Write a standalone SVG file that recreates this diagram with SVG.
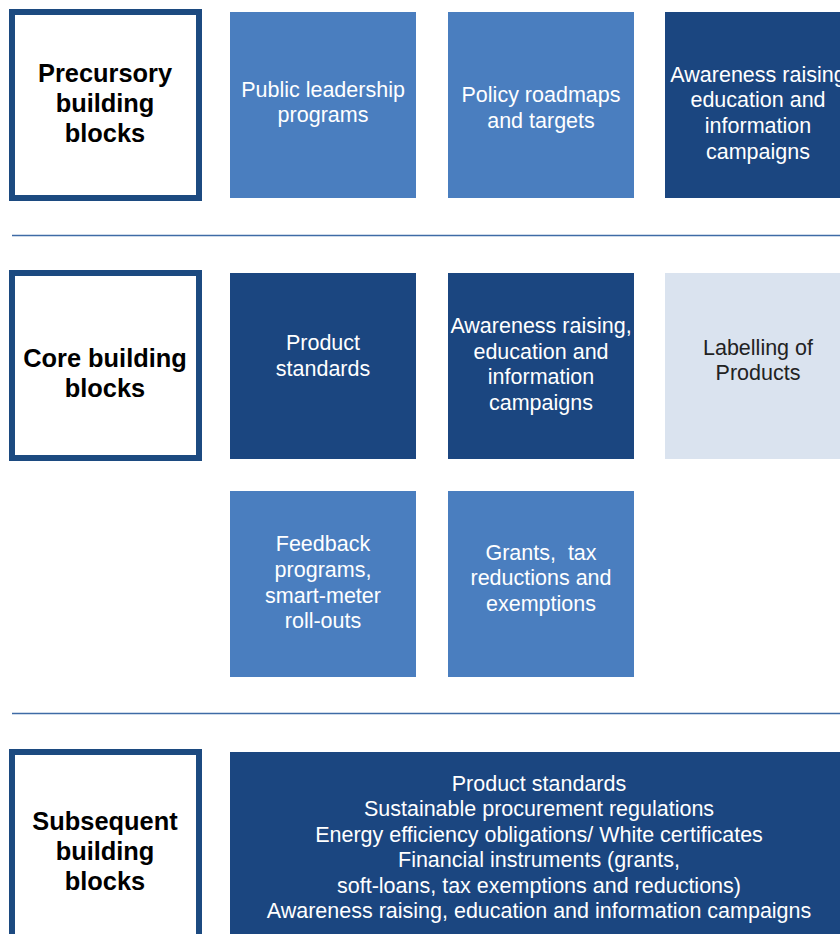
<svg xmlns="http://www.w3.org/2000/svg" width="840" height="934" viewBox="0 0 840 934">
<style>
.frame{fill:#fff;stroke:#1c4a80;stroke-width:6}
.mid{fill:#4a7ebf}
.dark{fill:#1b4680}
.light{fill:#dae3ef}
.div{stroke:#3f6ba6;stroke-width:1.6}
.lbl{font-family:"Liberation Sans",Arial,sans-serif;font-weight:bold;font-size:25.4px;fill:#000;text-anchor:middle}
.t{font-family:"Liberation Sans",Arial,sans-serif;font-size:21.5px;fill:#fff;text-anchor:middle}
.td{fill:#222}
</style>
<rect width="840" height="934" fill="#fff"/>
<g id="dividers">
<line class="div" x1="12" y1="235.5" x2="840" y2="235.5"/>
<line class="div" x1="12" y1="713.5" x2="840" y2="713.5"/>
</g>
<g id="precursory">
<rect class="frame" x="12" y="12" width="187" height="186"/>
<text class="lbl"><tspan x="105" y="82">Precursory</tspan><tspan x="105" y="112">building</tspan><tspan x="105" y="142">blocks</tspan></text>
</g>
<g id="public-leadership">
<rect class="mid" x="230" y="12" width="186" height="186"/>
<text class="t"><tspan x="323" y="97">Public leadership</tspan><tspan x="323" y="122">programs</tspan></text>
</g>
<g id="policy-roadmaps">
<rect class="mid" x="448" y="12" width="186" height="186"/>
<text class="t"><tspan x="541" y="102">Policy roadmaps</tspan><tspan x="541" y="128">and targets</tspan></text>
</g>
<g id="awareness-1">
<rect class="dark" x="665" y="12" width="186" height="186"/>
<text class="t"><tspan x="758" y="82">Awareness raising</tspan><tspan x="758" y="107">education and</tspan><tspan x="758" y="133">information</tspan><tspan x="758" y="159">campaigns</tspan></text>
</g>
<g id="core">
<rect class="frame" x="12" y="273" width="187" height="185"/>
<text class="lbl"><tspan x="105" y="367">Core building</tspan><tspan x="105" y="397">blocks</tspan></text>
</g>
<g id="product-standards">
<rect class="dark" x="230" y="273" width="186" height="186"/>
<text class="t"><tspan x="323" y="350">Product</tspan><tspan x="323" y="376">standards</tspan></text>
</g>
<g id="awareness-2">
<rect class="dark" x="448" y="273" width="186" height="186"/>
<text class="t"><tspan x="541" y="333">Awareness raising,</tspan><tspan x="541" y="359">education and</tspan><tspan x="541" y="384">information</tspan><tspan x="541" y="410">campaigns</tspan></text>
</g>
<g id="labelling">
<rect class="light" x="665" y="273" width="186" height="186"/>
<text class="t td"><tspan x="758" y="355">Labelling of</tspan><tspan x="758" y="380">Products</tspan></text>
</g>
<g id="feedback">
<rect class="mid" x="230" y="491" width="186" height="186"/>
<text class="t"><tspan x="323" y="551">Feedback</tspan><tspan x="323" y="577">programs,</tspan><tspan x="323" y="603">smart-meter</tspan><tspan x="323" y="628">roll-outs</tspan></text>
</g>
<g id="grants">
<rect class="mid" x="448" y="491" width="186" height="186"/>
<text class="t" xml:space="preserve"><tspan x="541" y="560">Grants,  tax</tspan><tspan x="541" y="585">reductions and</tspan><tspan x="541" y="611">exemptions</tspan></text>
</g>
<g id="subsequent">
<rect class="frame" x="12" y="752" width="187" height="200"/>
<text class="lbl"><tspan x="105" y="830">Subsequent</tspan><tspan x="105" y="860">building</tspan><tspan x="105" y="890">blocks</tspan></text>
</g>
<g id="subsequent-list">
<rect class="dark" x="230" y="752" width="621" height="200"/>
<text class="t"><tspan x="539" y="791">Product standards</tspan><tspan x="539" y="816">Sustainable procurement regulations</tspan><tspan x="539" y="842">Energy efficiency obligations/ White certificates</tspan><tspan x="539" y="867">Financial instruments (grants,</tspan><tspan x="539" y="893">soft-loans, tax exemptions and reductions)</tspan><tspan x="539" y="918">Awareness raising, education and information campaigns</tspan></text>
</g>
</svg>
